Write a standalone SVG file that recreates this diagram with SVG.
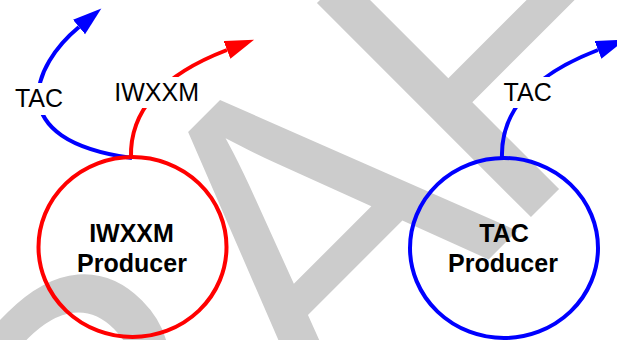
<svg xmlns="http://www.w3.org/2000/svg" width="617" height="340" viewBox="0 0 617 340">
<style>
.wm{font-family:"Liberation Sans",Arial,sans-serif;font-size:440px;fill:#cccccc}
.node{fill:none;stroke-width:4}
.ntxt{font-family:"Liberation Sans",Arial,sans-serif;font-size:25px;font-weight:bold;fill:#000;text-anchor:middle}
.edge{fill:none;stroke-width:4}
.lbl{font-family:"Liberation Sans",Arial,sans-serif;font-size:25px;fill:#000;text-anchor:middle}
.lblbg{fill:#fff}
</style>
<defs>
<marker id="arB" markerUnits="userSpaceOnUse" markerWidth="30" markerHeight="20" refX="0" refY="9.5" orient="auto" viewBox="0 0 30 20"><path d="M0,0 L29,9.5 L0,19 z" fill="#0000ff"/></marker>
<marker id="arR" markerUnits="userSpaceOnUse" markerWidth="30" markerHeight="20" refX="0" refY="9.5" orient="auto" viewBox="0 0 30 20"><path d="M0,0 L29,9.5 L0,19 z" fill="#ff0000"/></marker>
</defs>
<rect width="617" height="340" fill="#ffffff"/>
<text class="wm" transform="rotate(-45) scale(0.968,1)" x="-718.8" y="529">DRA<tspan dx="-17">F</tspan>T</text>
<g id="connectors">
<path class="edge" stroke="#0000ff" d="M132,158 C0,140 33,65 79,27" marker-end="url(#arB)"/>
<path class="edge" stroke="#ff0000" d="M131,158 C129,100 180,68 227,50" marker-end="url(#arR)"/>
<path class="edge" stroke="#0000ff" d="M502,158 C500,100 551,68 598,50" marker-end="url(#arB)"/>
<rect class="lblbg" x="12" y="83" width="55" height="32"/>
<text class="lbl" x="39" y="106.7">TAC</text>
<rect class="lblbg" x="110" y="77" width="93" height="31"/>
<text class="lbl" x="156.7" y="100.7">IWXXM</text>
<rect class="lblbg" x="499" y="77" width="58" height="31"/>
<text class="lbl" x="527.7" y="100.7">TAC</text>
</g>
<g id="iwxxm-producer">
<ellipse class="node" stroke="#ff0000" cx="132.5" cy="247" rx="94" ry="90"/>
<text class="ntxt" x="131.5" y="241.7">IWXXM</text>
<text class="ntxt" x="132" y="271.7">Producer</text>
</g>
<g id="tac-producer">
<ellipse class="node" stroke="#0000ff" cx="504" cy="248" rx="94" ry="90"/>
<text class="ntxt" x="504" y="241.7">TAC</text>
<text class="ntxt" x="503" y="271.7">Producer</text>
</g>
</svg>
